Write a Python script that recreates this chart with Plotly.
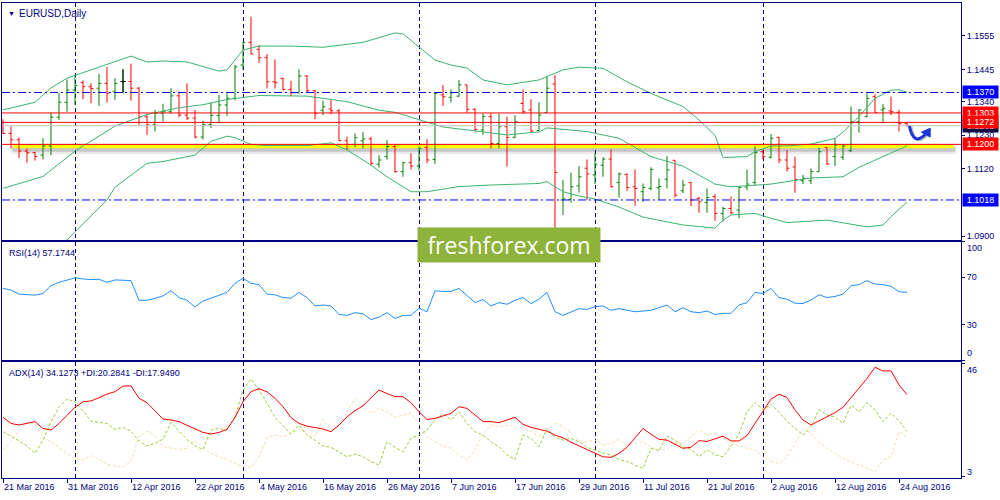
import pandas as pd
import plotly.graph_objects as go
from plotly.subplots import make_subplots

# -------------------------------------------------------------------------------------------------
# Data: EURUSD daily bars, 21 Mar 2016 - 25 Aug 2016
# -------------------------------------------------------------------------------------------------
dates = pd.bdate_range("2016-03-21", "2016-08-25")
bars = list(range(len(dates)))

opens = [1.1272, 1.1236, 1.1215, 1.1178, 1.1173, 1.1165, 1.1195, 1.1289, 1.1338, 1.1378,
         1.1402, 1.1389, 1.1384, 1.1400, 1.1372, 1.1406, 1.1406, 1.1384, 1.1290, 1.1264,
         1.1302, 1.1307, 1.1359, 1.1296, 1.1286, 1.1224, 1.1265, 1.1295, 1.1329, 1.1351,
         1.1460, 1.1534, 1.1511, 1.1484, 1.1405, 1.1416, 1.1380, 1.1369, 1.1424, 1.1376,
         1.1312, 1.1316, 1.1310, 1.1212, 1.1200, 1.1212, 1.1218, 1.1135, 1.1160, 1.1193,
         1.1111, 1.1140, 1.1129, 1.1190, 1.1151, 1.1362, 1.1354, 1.1358, 1.1395, 1.1315,
         1.1247, 1.1291, 1.1203, 1.1258, 1.1223, 1.1334, 1.1313, 1.1245, 1.1304, 1.1398,
         1.1018, 1.1020, 1.1064, 1.1122, 1.1100, 1.1132, 1.1152, 1.1075, 1.1102, 1.1061,
         1.1045, 1.1056, 1.1058, 1.1086, 1.1148, 1.1048, 1.1075, 1.1023, 1.1010, 1.1029,
         1.0974, 1.0990, 1.0985, 1.1061, 1.1075, 1.1176, 1.1158, 1.1223, 1.1149, 1.1126,
         1.1081, 1.1081, 1.1111, 1.1190, 1.1160, 1.1158, 1.1179, 1.1274, 1.1291, 1.1356,
         1.1313, 1.1310, 1.1305, 1.1268]
highs = [1.1282, 1.1258, 1.1223, 1.1187, 1.1176, 1.1220, 1.1304, 1.1368, 1.1413, 1.1428,
         1.1409, 1.1400, 1.1431, 1.1453, 1.1417, 1.1446, 1.1464, 1.1388, 1.1296, 1.1313,
         1.1333, 1.1384, 1.1373, 1.1400, 1.1313, 1.1278, 1.1337, 1.1362, 1.1367, 1.1460,
         1.1536, 1.1618, 1.1525, 1.1496, 1.1478, 1.1419, 1.1408, 1.1446, 1.1427, 1.1378,
         1.1343, 1.1345, 1.1316, 1.1225, 1.1236, 1.1241, 1.1225, 1.1165, 1.1214, 1.1198,
         1.1143, 1.1171, 1.1193, 1.1218, 1.1370, 1.1394, 1.1380, 1.1411, 1.1395, 1.1318,
         1.1302, 1.1302, 1.1302, 1.1291, 1.1296, 1.1380, 1.1348, 1.1338, 1.1422, 1.1427,
         1.1083, 1.1107, 1.1129, 1.1151, 1.1171, 1.1158, 1.1184, 1.1108, 1.1105, 1.1118,
         1.1072, 1.1125, 1.1089, 1.1162, 1.1148, 1.1083, 1.1078, 1.1029, 1.1056, 1.1037,
         1.0996, 1.1029, 1.1061, 1.1118, 1.1195, 1.1184, 1.1234, 1.1225, 1.1182, 1.1160,
         1.1100, 1.1121, 1.1190, 1.1190, 1.1220, 1.1201, 1.1324, 1.1315, 1.1367, 1.1364,
         1.1332, 1.1356, 1.1313, 1.1270]
lows = [1.1234, 1.1187, 1.1155, 1.1140, 1.1147, 1.1151, 1.1165, 1.1280, 1.1307, 1.1329,
        1.1348, 1.1335, 1.1326, 1.1337, 1.1346, 1.1368, 1.1343, 1.1263, 1.1231, 1.1242,
        1.1275, 1.1302, 1.1289, 1.1280, 1.1220, 1.1216, 1.1253, 1.1269, 1.1293, 1.1345,
        1.1443, 1.1496, 1.1467, 1.1383, 1.1383, 1.1376, 1.1358, 1.1367, 1.1369, 1.1282,
        1.1296, 1.1299, 1.1211, 1.1181, 1.1190, 1.1187, 1.1132, 1.1124, 1.1150, 1.1107,
        1.1094, 1.1118, 1.1114, 1.1138, 1.1136, 1.1326, 1.1337, 1.1356, 1.1304, 1.1242,
        1.1231, 1.1187, 1.1187, 1.1127, 1.1220, 1.1300, 1.1238, 1.1245, 1.1304, 1.0925,
        1.0969, 1.1009, 1.1042, 1.1018, 1.1070, 1.1094, 1.1059, 1.1026, 1.1048, 1.0999,
        1.1012, 1.1050, 1.1018, 1.1056, 1.1026, 1.1040, 1.0998, 1.0976, 1.0976, 1.0950,
        1.0947, 1.0972, 1.0958, 1.1050, 1.1067, 1.1151, 1.1153, 1.1138, 1.1111, 1.1042,
        1.1070, 1.1070, 1.1111, 1.1133, 1.1129, 1.1149, 1.1176, 1.1238, 1.1289, 1.1304,
        1.1269, 1.1296, 1.1242, 1.1259]
closes = [1.1236, 1.1215, 1.1178, 1.1173, 1.1160, 1.1195, 1.1289, 1.1338, 1.1378, 1.1392,
          1.1389, 1.1383, 1.1400, 1.1368, 1.1400, 1.1406, 1.1384, 1.1290, 1.1264, 1.1302,
          1.1307, 1.1359, 1.1296, 1.1286, 1.1224, 1.1265, 1.1295, 1.1329, 1.1351, 1.1454,
          1.1534, 1.1496, 1.1484, 1.1405, 1.1402, 1.1380, 1.1369, 1.1424, 1.1376, 1.1301,
          1.1323, 1.1310, 1.1212, 1.1200, 1.1222, 1.1218, 1.1138, 1.1149, 1.1193, 1.1111,
          1.1140, 1.1129, 1.1187, 1.1149, 1.1367, 1.1356, 1.1369, 1.1395, 1.1315, 1.1249,
          1.1291, 1.1203, 1.1258, 1.1223, 1.1274, 1.1307, 1.1244, 1.1296, 1.1384, 1.1108,
          1.1022, 1.1061, 1.1094, 1.1103, 1.1135, 1.1152, 1.1061, 1.1103, 1.1059, 1.1056,
          1.1059, 1.1118, 1.1062, 1.1116, 1.1034, 1.1067, 1.1018, 1.1012, 1.1026, 1.0974,
          1.0990, 1.0976, 1.1059, 1.1070, 1.1173, 1.1160, 1.1220, 1.1149, 1.1122, 1.1085,
          1.1089, 1.1111, 1.1176, 1.1136, 1.1198, 1.1195, 1.1274, 1.1313, 1.1351, 1.1304,
          1.1318, 1.1307, 1.1268, 1.1261]

# Bollinger bands (20, 2), read at points along each line
bb_upper_bar = [0, 4, 6, 8, 12, 14, 16, 18, 20, 23, 25, 27, 28, 29, 30, 32, 36, 40, 45, 49, 50,
                52, 54, 56, 58, 60, 63, 67, 70, 72, 75, 78, 81, 85, 87, 89, 90, 93, 94, 96, 98,
                101, 104, 105, 107, 109, 111, 112, 113]
bb_upper = [1.1313, 1.1338, 1.1385, 1.1417, 1.1453, 1.1470, 1.1489, 1.1470, 1.1473, 1.1470,
            1.1455, 1.1440, 1.1444, 1.1476, 1.1509, 1.1522, 1.1522, 1.1518, 1.1534, 1.1565,
            1.1562, 1.1519, 1.1476, 1.1460, 1.1450, 1.1411, 1.1395, 1.1411, 1.1444, 1.1453,
            1.1449, 1.1405, 1.1367, 1.1324, 1.1280, 1.1230, 1.1157, 1.1160, 1.1176, 1.1195,
            1.1195, 1.1201, 1.1220, 1.1240, 1.1291, 1.1351, 1.1378, 1.1379, 1.1371]
bb_mid_bar = [0, 5, 9, 14, 18, 22, 25, 28, 32, 38, 43, 47, 49, 52, 55, 60, 63, 67, 68, 71, 73,
              77, 81, 85, 89, 91, 96, 101, 105, 107, 110, 113]
bb_mid = [1.1056, 1.1095, 1.1178, 1.1260, 1.1298, 1.1320, 1.1330, 1.1347, 1.1360, 1.1358,
          1.1340, 1.1312, 1.1305, 1.1280, 1.1257, 1.1241, 1.1231, 1.1241, 1.1254, 1.1247,
          1.1242, 1.1220, 1.1160, 1.1129, 1.1070, 1.1061, 1.1070, 1.1090, 1.1094, 1.1125,
          1.1160, 1.1195]
bb_lower_bar = [7, 8, 10, 12, 13, 14, 18, 20, 23, 24, 26, 28, 29, 31, 33, 38, 41, 43, 46, 48,
                51, 53, 57, 61, 67, 68, 70, 72, 74, 77, 80, 82, 85, 89, 90, 91, 94, 96, 98, 103,
                106, 108, 110, 111, 113]
bb_lower = [1.0870, 1.0887, 1.0940, 1.0990, 1.1018, 1.1060, 1.1138, 1.1144, 1.1158, 1.1165,
            1.1210, 1.1227, 1.1222, 1.1200, 1.1196, 1.1196, 1.1205, 1.1182, 1.1132, 1.1094,
            1.1045, 1.1045, 1.1062, 1.1067, 1.1072, 1.1078, 1.1045, 1.1031, 1.1021, 1.0995,
            1.0962, 1.0952, 1.0936, 1.0926, 1.0952, 1.0969, 1.0974, 1.0958, 1.0944, 1.0952,
            1.0938, 1.0930, 1.0936, 1.0963, 1.1012]

rsi = [60.5, 59.1, 55.7, 55.1, 54.8, 56.2, 62.8, 65.7, 67.7, 69.4,
       68.5, 68.0, 68.2, 65.7, 67.7, 67.7, 67.1, 50.5, 50.5, 52.0,
       54.2, 58.5, 52.8, 50.5, 44.8, 49.9, 52.2, 54.2, 57.1, 64.8,
       69.1, 64.8, 63.7, 55.7, 55.1, 52.8, 52.2, 57.1, 52.8, 45.7,
       46.5, 45.7, 38.5, 37.7, 40.0, 39.1, 34.2, 36.3, 40.0, 35.1,
       37.7, 37.7, 43.7, 40.8, 58.5, 58.0, 58.0, 60.5, 54.2, 48.5,
       51.1, 45.7, 48.5, 47.1, 50.5, 52.8, 47.7, 51.4, 57.1, 40.8,
       37.7, 40.8, 43.4, 42.8, 45.1, 45.7, 42.0, 43.4, 42.0, 40.8,
       41.4, 42.0, 44.2, 46.5, 40.8, 44.2, 40.8, 40.0, 41.4, 38.5,
       39.4, 39.4, 46.5, 48.5, 57.1, 56.2, 60.5, 52.8, 51.4, 48.0,
       47.7, 50.8, 55.1, 52.8, 53.7, 55.7, 62.8, 63.7, 67.1, 64.2,
       63.7, 62.3, 57.7, 57.17]

adx = [25.5, 23.2, 22.6, 23.2, 23.9, 21.3, 20.7, 23.2, 26.1, 29.3,
       31.4, 31.7, 32.9, 34.3, 35.2, 37.3, 37.4, 32.7, 31.0, 28.0,
       24.9, 24.5, 23.9, 22.5, 21.0, 19.8, 19.2, 19.8, 21.0, 25.5,
       31.4, 35.2, 36.3, 35.2, 32.7, 29.5, 25.4, 23.2, 22.2, 21.6,
       21.1, 20.1, 22.6, 25.7, 28.0, 29.9, 32.7, 35.8, 34.5, 33.3,
       33.3, 31.0, 27.6, 24.7, 25.1, 26.1, 27.0, 29.5, 28.9, 26.4,
       23.9, 23.9, 23.5, 24.5, 25.5, 22.9, 21.7, 21.0, 20.3, 18.8,
       17.8, 16.1, 14.7, 13.4, 11.9, 10.6, 10.4, 11.9, 14.2, 17.6,
       21.3, 19.1, 17.2, 16.9, 15.4, 13.8, 14.2, 16.7, 16.4, 17.4,
       18.4, 16.6, 16.6, 18.6, 23.2, 27.6, 32.4, 34.2, 33.0, 28.3,
       24.5, 22.6, 24.2, 25.5, 27.3, 29.3, 32.9, 36.4, 40.2, 44.4,
       43.0, 43.1, 37.7, 34.1]
plus_di = [20.1, 18.5, 16.6, 14.7, 11.9, 16.9, 23.9, 29.3, 32.4, 31.4,
           28.0, 24.1, 23.6, 23.2, 21.0, 21.7, 20.3, 16.6, 14.7, 15.7,
           17.3, 23.6, 20.3, 17.2, 14.7, 13.4, 20.7, 21.3, 20.7, 25.7,
           35.8, 40.0, 35.8, 31.0, 25.4, 22.2, 19.2, 22.6, 18.8, 16.9,
           14.7, 14.2, 12.5, 10.6, 11.6, 10.6, 8.8, 7.5, 16.3, 14.2,
           12.5, 17.6, 18.8, 20.7, 24.5, 27.0, 24.5, 27.6, 23.2, 20.1,
           18.8, 16.3, 14.4, 11.3, 9.6, 18.8, 17.6, 14.4, 21.3, 17.9,
           16.9, 17.6, 16.3, 14.2, 13.2, 11.9, 11.3, 9.6, 8.8, 7.5,
           6.2, 13.8, 12.9, 18.5, 16.9, 14.4, 13.4, 10.6, 13.2, 11.3,
           10.6, 14.7, 19.2, 27.6, 31.0, 28.5, 30.4, 27.6, 24.1, 21.3,
           18.8, 22.0, 28.5, 26.4, 25.7, 23.2, 30.1, 27.6, 31.0, 28.3,
           23.9, 27.0, 24.1, 20.3]
minus_di = [13.2, 16.3, 20.5, 23.6, 23.0, 18.2, 16.3, 14.2, 11.7, 9.8,
            9.4, 11.0, 9.8, 7.9, 7.1, 6.6, 9.1, 18.2, 20.3, 18.6,
            14.4, 13.8, 13.4, 13.8, 16.9, 13.8, 11.9, 10.6, 9.6, 8.1,
            6.9, 6.6, 10.6, 17.9, 18.8, 18.2, 19.5, 20.5, 22.0, 18.2,
            24.7, 20.7, 22.0, 27.6, 32.7, 29.5, 27.0, 28.9, 27.6, 25.5,
            26.4, 27.0, 23.0, 18.2, 16.3, 14.7, 13.8, 11.3, 9.4, 13.2,
            19.2, 22.6, 22.0, 22.6, 22.0, 21.3, 20.1, 18.2, 19.5, 23.9,
            22.0, 19.2, 16.7, 16.3, 16.9, 15.0, 15.7, 17.2, 15.0, 15.7,
            16.3, 14.2, 13.2, 13.4, 15.7, 15.7, 18.2, 20.7, 18.8, 19.5,
            18.2, 15.7, 15.0, 13.8, 13.2, 10.6, 8.8, 8.1, 10.6, 15.7,
            21.0, 19.5, 16.3, 13.8, 11.9, 10.0, 8.8, 7.5, 6.2, 5.0,
            9.4, 10.6, 20.1, 17.9]

blue_levels = [1.1370, 1.1018]
red_levels = [1.1303, 1.1272, 1.1200]
bid_price = 1.1261
support = 1.1200
price_ticks = [1.1555, 1.1445, 1.1340, 1.1230, 1.1120, 1.0900]
rsi_levels = [70, 30]

# -------------------------------------------------------------------------------------------------
# Style
# -------------------------------------------------------------------------------------------------
NAVY = "#000080"
GREEN = "#008000"
RED = "#ff0000"
BAND = "#3cb371"
FONT = "Liberation Sans, Arial, sans-serif"

date_labels = [f"{d.day} {d.strftime('%b %Y')}" for d in dates[::8]]
month_starts = [i for i in bars[1:] if dates[i].month != dates[i - 1].month]

fig = make_subplots(rows=3, cols=1, shared_xaxes=True, vertical_spacing=0.003)

# price bars
fig.add_trace(go.Ohlc(
    x=bars, open=opens, high=highs, low=lows, close=closes,
    increasing=dict(line=dict(color=GREEN, width=1)),
    decreasing=dict(line=dict(color=RED, width=1)),
    tickwidth=0.3, hoverinfo="skip", showlegend=False,
), row=1, col=1)

# doji bars are black in MT4
dx, dy = [], []
for i in [b for b in bars if opens[b] == closes[b]]:
    dx += [i, i, None, i - 0.3, i, None, i, i + 0.3, None]
    dy += [lows[i], highs[i], None, opens[i], opens[i], None, closes[i], closes[i], None]
fig.add_trace(go.Scatter(x=dx, y=dy, mode="lines", line=dict(color="black", width=1),
                         hoverinfo="skip", showlegend=False), row=1, col=1)

for bx, by in [(bb_upper_bar, bb_upper), (bb_mid_bar, bb_mid), (bb_lower_bar, bb_lower)]:
    fig.add_trace(go.Scatter(x=bx, y=by, mode="lines", line=dict(color=BAND, width=1),
                             hoverinfo="skip", showlegend=False), row=1, col=1)

# support zone (yellow rectangle with shadow)
fig.add_shape(type="rect", xref="x", yref="y", x0=1.0, x1=119.2, y0=support - 0.0032, y1=support + 0.0003,
              fillcolor="rgba(0,0,0,0.08)", line_width=0, layer="between")
fig.add_shape(type="rect", xref="x", yref="y", x0=1.2, x1=119.0, y0=support - 0.0024, y1=support - 0.0008,
              fillcolor="rgba(0,0,0,0.16)", line_width=0, layer="between")
fig.add_shape(type="rect", xref="x", yref="y", x0=1.3, x1=118.8, y0=support - 0.0013, y1=support,
              fillcolor="#ffff00", line_width=0, layer="between")

fig.add_hline(y=bid_price, line=dict(color="#c0c0c0", width=1), row=1, col=1)
for lv in blue_levels:
    fig.add_hline(y=lv, line=dict(color="#0000ff", width=1, dash="8px,3px,2px,3px"), row=1, col=1)
for lv in red_levels:
    fig.add_hline(y=lv, line=dict(color=RED, width=1), row=1, col=1)

# hand-drawn bounce arrow
fig.add_shape(type="path", xref="x", yref="y", path="M 113.5,1.1257 Q 114.0,1.1190 115.5,1.1230",
              line=dict(color="rgba(0,0,0,0.25)", width=3))
fig.add_shape(type="path", xref="x", yref="y", path="M 113.3,1.1260 Q 113.8,1.1193 115.3,1.1233",
              line=dict(color="#1b36d8", width=3))
fig.add_shape(type="path", xref="x", yref="y", path="M 115.9,1.1253 L 114.8,1.1240 L 115.9,1.1224 Z",
              fillcolor="#1b36d8", line=dict(color="#1b36d8", width=1))

# RSI
for lv in rsi_levels:
    fig.add_hline(y=lv, line=dict(color="#c0c0c0", width=1, dash="4px,3px"), row=2, col=1)
fig.add_trace(go.Scatter(x=bars, y=rsi, mode="lines", line=dict(color="#1e90ff", width=1),
                         hoverinfo="skip", showlegend=False), row=2, col=1)

# ADX
fig.add_trace(go.Scatter(x=bars, y=minus_di, mode="lines", line=dict(color="#f5deb3", width=1, dash="3px,2px"),
                         hoverinfo="skip", showlegend=False), row=3, col=1)
fig.add_trace(go.Scatter(x=bars, y=plus_di, mode="lines", line=dict(color="#9acd32", width=1, dash="3px,2px"),
                         hoverinfo="skip", showlegend=False), row=3, col=1)
fig.add_trace(go.Scatter(x=bars, y=adx, mode="lines", line=dict(color=RED, width=1),
                         hoverinfo="skip", showlegend=False), row=3, col=1)

# -------------------------------------------------------------------------------------------------
# Axes
# -------------------------------------------------------------------------------------------------
frame = dict(showline=True, linecolor=NAVY, linewidth=1, mirror=True, zeroline=False, showgrid=False,
             automargin=False)
fig.update_xaxes(**frame, range=[-0.125, 119.75], rangeslider_visible=False, showticklabels=False, ticks="",
                 minor=dict(tickmode="array", tickvals=month_starts, showgrid=True, gridcolor=NAVY,
                            griddash="4px,3px", gridwidth=1, ticks=""))
fig.update_xaxes(row=3, col=1, showticklabels=True, tickmode="array", tickvals=bars[::8], ticktext=date_labels,
                 ticks="outside", ticklen=4, tickcolor=NAVY, ticklabelposition="outside right",
                 tickfont=dict(family=FONT, size=9, color=NAVY))
fig.update_yaxes(**frame, side="right", ticks="outside", ticklen=3, tickcolor=NAVY,
                 tickfont=dict(family=FONT, size=9, color=NAVY))
fig.update_yaxes(row=1, col=1, range=[1.0887, 1.1663], tickmode="array", tickvals=price_ticks,
                 tickformat=".4f", domain=[0.5011, 1])
fig.update_yaxes(row=2, col=1, range=[0, 100], tickmode="array", tickvals=[100, 70, 30, 0],
                 ticktext=["", "70", "30", ""], domain=[0.2484, 0.4975])
fig.update_yaxes(row=3, col=1, range=[2.6, 46.4], tickmode="array", tickvals=[46, 3],
                 ticktext=["", ""], domain=[0, 0.2442])

# -------------------------------------------------------------------------------------------------
# Labels
# -------------------------------------------------------------------------------------------------
txt = dict(family=FONT, size=9, color=NAVY)
ann = [
    dict(xref="paper", yref="paper", x=0, y=1, xshift=4, yshift=-5, xanchor="left", yanchor="top",
         text="▼", font=dict(family=FONT, size=7, color=NAVY), showarrow=False),
    dict(xref="paper", yref="paper", x=0, y=1, xshift=15, yshift=-3, xanchor="left", yanchor="top",
         text="EURUSD,Daily", font=dict(family=FONT, size=10, color=NAVY), showarrow=False),
    dict(xref="paper", yref="paper", x=0, y=0.4975, xshift=5, yshift=-4, xanchor="left", yanchor="top",
         text="RSI(14) 57.1744", font=txt, showarrow=False),
    dict(xref="paper", yref="paper", x=0, y=0.2442, xshift=5, yshift=-4, xanchor="left", yanchor="top",
         text="ADX(14) 34.1273 +DI:20.2841 -DI:17.9490", font=txt, showarrow=False),
    dict(xref="paper", yref="y2", x=1, y=100, xshift=4, yshift=-6, xanchor="left", yanchor="middle",
         text="100", font=txt, showarrow=False),
    dict(xref="paper", yref="y2", x=1, y=0, xshift=4, yshift=7, xanchor="left", yanchor="middle",
         text="0", font=txt, showarrow=False),
    dict(xref="paper", yref="y3", x=1, y=46, xshift=4, yshift=-7, xanchor="left", yanchor="middle",
         text="46", font=txt, showarrow=False),
    dict(xref="paper", yref="y3", x=1, y=3, xshift=4, yshift=5, xanchor="left", yanchor="middle",
         text="3", font=txt, showarrow=False),
    dict(xref="paper", yref="paper", x=0.5287, y=0.4905, xanchor="center", yanchor="middle",
         text="freshforex.com", font=dict(family="Open Sans, sans-serif", size=23, color="white"),
         bgcolor="#8db33a", width=182, height=34, borderpad=0, showarrow=False),
]
price_boxes = [(bid_price, "#0b0b45")] + [(lv, RED) for lv in red_levels[:2]] + \
              [(blue_levels[0], "#0000ff"), (red_levels[2], RED), (blue_levels[1], "#0000ff")]
for lv, col in price_boxes:
    ann.append(dict(xref="paper", yref="y", x=1, y=lv, xshift=1, xanchor="left", yanchor="middle",
                    text=f"{lv:.4f}", font=dict(family=FONT, size=9, color="white"), bgcolor=col,
                    width=33, height=10, borderpad=1, showarrow=False))

fig.update_layout(
    width=1000, height=500,
    margin=dict(l=2, r=39, t=3, b=22),
    plot_bgcolor="white", paper_bgcolor="white",
    showlegend=False, annotations=ann,
    font=dict(family=FONT, size=9, color=NAVY),
)

# the page body has a default 8px margin: remove it so the chart sits at the window's corner
fig.write_html("out.html", config={"displayModeBar": False},
               post_script="document.body.style.margin='0';")
